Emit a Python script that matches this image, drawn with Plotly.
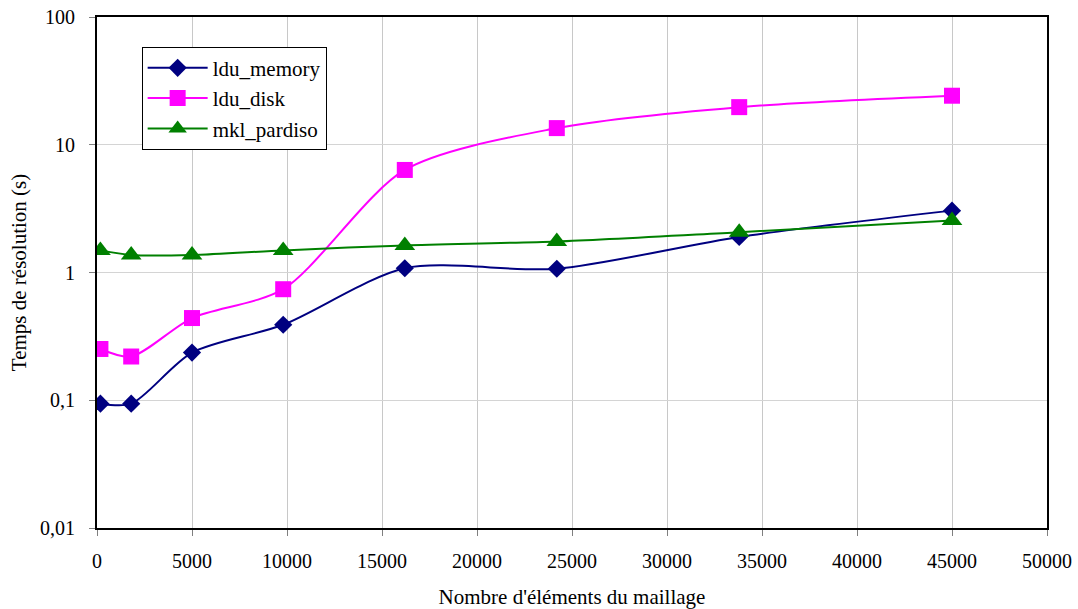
import plotly.graph_objects as go

x_elements = [180, 1800, 5000, 9800, 16200, 24200, 33800, 45000]
ldu_memory = [0.094, 0.094, 0.236, 0.39, 1.08, 1.07, 1.9, 3.05]
ldu_disk = [0.252, 0.22, 0.44, 0.74, 6.35, 13.5, 19.7, 24.2]
mkl_pardiso = [1.49, 1.37, 1.37, 1.49, 1.63, 1.75, 2.07, 2.55]

y_tickvals = [0.01, 0.1, 1, 10, 100]
y_ticktext = ["0,01", "0,1", "1", "10", "100"]
x_tickvals = [0, 5000, 10000, 15000, 20000, 25000, 30000, 35000, 40000, 45000, 50000]
x_ticktext = [str(v) for v in x_tickvals]

font_family = "Liberation Serif, Times New Roman, serif"

fig = go.Figure()
fig.add_trace(go.Scatter(
    x=x_elements, y=ldu_memory, name="ldu_memory", mode="lines+markers",
    line=dict(color="#000080", width=2, shape="spline", smoothing=0.8),
    marker=dict(symbol="diamond", size=14, color="#000080"),
))
fig.add_trace(go.Scatter(
    x=x_elements, y=ldu_disk, name="ldu_disk", mode="lines+markers",
    line=dict(color="#FF00FF", width=2, shape="spline", smoothing=0.8),
    marker=dict(symbol="square", size=16, color="#FF00FF"),
))
fig.add_trace(go.Scatter(
    x=x_elements, y=mkl_pardiso, name="mkl_pardiso", mode="lines+markers",
    line=dict(color="#008000", width=2, shape="spline", smoothing=0.8),
    marker=dict(symbol="triangle-up", size=18, color="#008000"),
))

fig.update_layout(
    width=1078, height=609,
    margin=dict(l=97, r=31, t=17, b=81),
    paper_bgcolor="white", plot_bgcolor="white",
    font=dict(family=font_family, size=20, color="black"),
    showlegend=True,
    legend=dict(
        x=0.047, y=0.942, xanchor="left", yanchor="top",
        bgcolor="white", bordercolor="black", borderwidth=1,
        font=dict(family=font_family, size=21, color="black"),
        tracegroupgap=0, itemwidth=60,
    ),
    xaxis=dict(
        range=[0, 50000], tickvals=x_tickvals, ticktext=x_ticktext,
        showgrid=True, gridcolor="#C8C8C8", gridwidth=1,
        showline=True, linecolor="black", linewidth=2, mirror=True,
        ticks="outside", ticklen=6, tickcolor="#808080",
        ticklabelstandoff=8,
        zeroline=False, automargin=False,
        title=dict(text="Nombre d'éléments du maillage",
                   font=dict(family=font_family, size=21), standoff=19),
        tickfont=dict(family=font_family, size=20),
    ),
    yaxis=dict(
        type="log", range=[-2, 2], tickvals=y_tickvals, ticktext=y_ticktext,
        showgrid=True, gridcolor="#D4D4D4", gridwidth=1,
        showline=True, linecolor="black", linewidth=2, mirror=True,
        ticks="outside", ticklen=6, tickcolor="#808080",
        ticklabelstandoff=10,
        zeroline=False, automargin=False,
        title=dict(text="Temps de résolution (s)",
                   font=dict(family=font_family, size=21), standoff=8),
        tickfont=dict(family=font_family, size=20),
    ),
)

fig.write_html("out.html")
